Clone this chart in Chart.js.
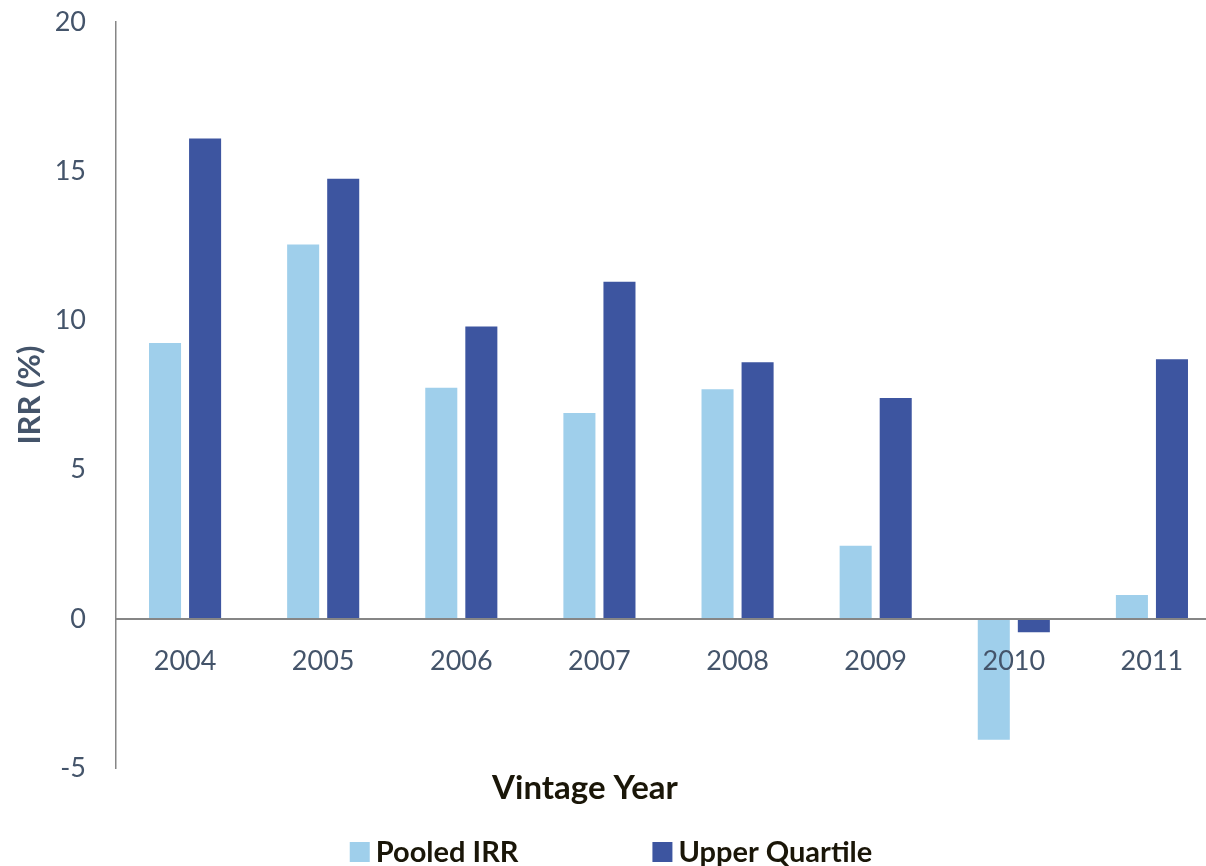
<!DOCTYPE html>
<html>
<head>
<meta charset="utf-8">
<script src="https://cdn.jsdelivr.net/npm/chart.js@4/dist/chart.umd.min.js"></script>
<style>
  html, body { margin: 0; padding: 0; background: #fff; overflow: hidden; }
  #wrap { position: relative; top: -24px; width: 1222px; height: 890px; overflow: hidden; }
</style>
</head>
<body>
<div id="wrap"><canvas id="irrChart"></canvas></div>
<script>
const years = ['2004', '2005', '2006', '2007', '2008', '2009', '2010', '2011'];
const pooledIrr = [9.25, 12.55, 7.75, 6.9, 7.7, 2.45, -4.05, 0.8];
const upperQuartile = [16.1, 14.75, 9.8, 11.3, 8.6, 7.4, -0.45, 8.7];
const yTicks = [-5, 0, 5, 10, 15, 20];

const FONT = 'Lato, "Open Sans", sans-serif';
const TICK_COLOR = '#44546a';
const LIGHT = '#9fcfeb';
const DARK = '#3d55a0';

// x title + legend drawn under the plot
const bottomText = {
  id: 'bottomText',
  afterDraw(chart) {
    const ctx = chart.ctx;
    const base = chart.chartArea.bottom;
    ctx.save();
    ctx.textBaseline = 'middle';
    ctx.fillStyle = '#1a1608';
    ctx.font = 'bold 33px ' + FONT;
    ctx.textAlign = 'center';
    ctx.fillText('Vintage Year', 585, base + 20);

    ctx.font = 'bold 29px ' + FONT;
    ctx.textAlign = 'left';
    const box = 20, gap = 6, itemGap = 134;
    const items = chart.data.datasets.map(d => ({ text: d.label, color: d.backgroundColor, w: ctx.measureText(d.label).width }));
    const total = items.reduce((s, it) => s + box + gap + it.w, 0) + itemGap * (items.length - 1);
    let x = 611 - total / 2;
    items.forEach(it => {
      ctx.fillStyle = it.color;
      ctx.fillRect(x, base + 74, box, box);
      ctx.fillStyle = '#1a1608';
      ctx.fillText(it.text, x + box + gap, base + 85);
      x += box + gap + it.w + itemGap;
    });
    ctx.restore();
  }
};

new Chart(document.getElementById('irrChart'), {
  type: 'bar',
  data: {
    labels: years,
    datasets: [
      { label: 'Pooled IRR', data: pooledIrr, backgroundColor: LIGHT },
      { label: 'Upper Quartile', data: upperQuartile, backgroundColor: DARK }
    ]
  },
  options: {
    responsive: true,
    maintainAspectRatio: false,
    animation: false,
    categoryPercentage: 0.58,
    barPercentage: 0.8,
    layout: { padding: { top: 0, bottom: 98, left: 0, right: 1 } },
    plugins: { legend: { display: false }, title: { display: false }, tooltip: { enabled: false } },
    scales: {
      x: {
        position: { y: 0 },
        grid: { display: false, drawTicks: false },
        border: { color: '#868686', width: 2, z: 1 },
        ticks: { color: TICK_COLOR, font: { family: FONT, size: 27 }, padding: 26, z: 1 }
      },
      y: {
        min: yTicks[0],
        max: yTicks[yTicks.length - 1],
        afterBuildTicks: s => { s.ticks = yTicks.map(v => ({ value: v })); },
        afterFit: s => { s.width = 116; },
        grid: { display: false, drawTicks: false },
        border: { color: '#868686', width: 1.5 },
        ticks: { color: TICK_COLOR, font: { family: FONT, size: 27 }, padding: 30 },
        title: { display: true, text: 'IRR (%)', color: TICK_COLOR, font: { family: FONT, size: 31, weight: 'bold' }, padding: { top: 11, bottom: 0 } }
      }
    }
  },
  plugins: [bottomText]
});
</script>
</body>
</html>
